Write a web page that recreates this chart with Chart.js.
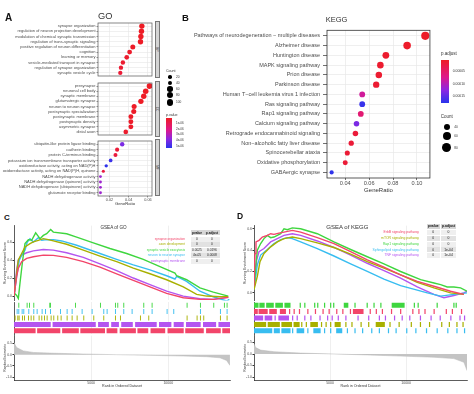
<!DOCTYPE html>
<html><head><meta charset="utf-8">
<script src="https://cdn.jsdelivr.net/npm/chart.js@4.4.1/dist/chart.umd.min.js"></script>
<style>
html,body{margin:0;padding:0;background:#fff}
body{width:474px;height:394px;position:relative;overflow:hidden;font-family:"Liberation Sans",Arial,sans-serif;color:#333}
.t{position:absolute;left:0;top:0;white-space:nowrap;transform-origin:0 0}
canvas{position:absolute}
.bx{position:absolute}
</style></head><body>
<script>
// ================= DATA =================
// Panel A: GO enrichment (three facets)
const goBPTerms = ["synapse organization","regulation of neuron projection development","modulation of chemical synaptic transmission","regulation of trans-synaptic signaling","positive regulation of neuron differentiation","cognition","learning or memory","vesicle-mediated transport in synapse","regulation of synapse organization","synaptic vesicle cycle"];
const goBPRatio = [0.0537,0.0533,0.0527,0.0523,0.0443,0.0410,0.0380,0.0340,0.0320,0.0313];
const goBPCount = [59,59,58,58,49,45,42,37,35,34];
const goBPPval = [2e-8,3e-8,4e-8,5e-8,1e-7,1.5e-7,2e-7,2.5e-7,3e-7,3.5e-7];

const goCCTerms = ["presynapse","neuronal cell body","synaptic membrane","glutamatergic synapse","neuron to neuron synapse","postsynaptic specialization","postsynaptic membrane","postsynaptic density","asymmetric synapse","distal axon"];
const goCCRatio = [0.0617,0.0577,0.0557,0.0527,0.0457,0.0453,0.0423,0.0423,0.0423,0.0370];
const goCCCount = [68,63,61,58,50,50,47,47,47,41];
const goCCPval = [1e-8,2e-8,3e-8,4e-8,6e-8,8e-8,1e-7,1.2e-7,1.4e-7,2e-7];

const goMFTerms = ["ubiquitin-like protein ligase binding","cadherin binding","protein C-terminus binding","potassium ion transmembrane transporter activity","oxidoreductase activity, acting on NAD(P)H","oxidoreductase activity, acting on NAD(P)H, quinone","NADH dehydrogenase activity","NADH dehydrogenase (quinone) activity","NADH dehydrogenase (ubiquinone) activity","glutamate receptor binding"];
const goMFRatio = [0.0333,0.0280,0.0263,0.0213,0.0167,0.0137,0.0107,0.0107,0.0107,0.0107];
const goMFCount = [37,31,29,23,18,15,12,12,12,12];
const goMFPval = [3.9e-6,4e-7,5e-7,4.9e-6,5.1e-6,6e-7,3.3e-6,3.3e-6,3.3e-6,3.3e-6];

const goXTicks = [0.02,0.04,0.06];
const goCountLegend = [20,40,60,80,100];
const goPLegend = ["1e-06","2e-06","3e-06","4e-06","5e-06"];
const goFacetNames = ["BP","CC","MF"];

// Panel B: KEGG enrichment
const keggTerms = ["Pathways of neurodegeneration \u2212 multiple diseases","Alzheimer disease","Huntington disease","MAPK signaling pathway","Prion disease","Parkinson disease","Human T\u2212cell leukemia virus 1 infection","Ras signaling pathway","Rap1 signaling pathway","Calcium signaling pathway","Retrograde endocannabinoid signaling","Non\u2212alcoholic fatty liver disease","Spinocerebellar ataxia","Oxidative phosphorylation","GABAergic synapse"];
const keggRatio = [0.107,0.0918,0.074,0.0694,0.0681,0.0659,0.0542,0.0542,0.053,0.0494,0.0485,0.045,0.0417,0.040,0.0286];
const keggCount = [72,62,50,47,46,44,36,36,36,33,33,30,28,27,19];
const keggPadj = [3e-6,5e-6,7e-6,8e-6,9e-6,1e-5,8.1e-5,1.72e-4,5.4e-5,1.35e-4,1.5e-5,1.4e-5,1.2e-5,1.3e-5,1.76e-4];
const keggXTicks = [0.04,0.06,0.08,0.10];
const keggPLegend = ["0.00005","0.00010","0.00015"];
const keggCountLegend = [40,60,80];

// Panel C: GSEA of GO  (running enrichment score: [rank, ES])
const cTerms = ["synapse organization","axon development","synaptic vesicle exocytosis","neuron to neuron synapse","postsynaptic membrane"];
const cPvalue = ["0","0","0.0025","4e-05","0"];
const cPadjust = ["0","0","0.0196","0.0008","0"];
const cESRed = [[0,0.004],[173,0.222],[281,0.313],[497,0.385],[821,0.422],[1253,0.44],[1901,0.458],[2549,0.455],[3413,0.433],[4493,0.385],[5573,0.324],[6653,0.251],[7733,0.178],[8813,0.105],[9893,0.033],[10973,-0.015],[12053,-0.033],[12917,-0.033],[13889,-0.011]];
const cESOlive = [[0,0.004],[173,0.258],[281,0.404],[497,0.476],[713,0.549],[1037,0.585],[1253,0.604],[1577,0.622],[1901,0.64],[2225,0.629],[2549,0.615],[3413,0.578],[4493,0.513],[5573,0.447],[6653,0.385],[7733,0.313],[8813,0.251],[9893,0.185],[10973,0.105],[11837,0.022],[12485,0.004],[13349,-0.004],[13889,-0.004]];
const cESGreen = [[0,0.04],[173,0.011],[281,-0.022],[389,0.149],[562,0.404],[713,0.585],[929,0.629],[1145,0.622],[1404,0.705],[1577,0.665],[1685,0.64],[1901,0.676],[2117,0.695],[2376,0.742],[2549,0.713],[3413,0.695],[4061,0.658],[5141,0.593],[6221,0.531],[7301,0.476],[8381,0.411],[9461,0.331],[10433,0.258],[10541,0.229],[11189,0.185],[12053,0.095],[12917,0.047],[13889,0.004]];
const cESCyan = [[0,0.004],[173,0.222],[346,0.404],[497,0.458],[713,0.513],[864,0.604],[1037,0.64],[1253,0.604],[1426,0.629],[1577,0.651],[1793,0.622],[2117,0.629],[2549,0.629],[3089,0.615],[4061,0.567],[5573,0.476],[6653,0.411],[7733,0.349],[8813,0.295],[9893,0.229],[10433,0.193],[10541,0.222],[11189,0.167],[12053,0.058],[12917,-0.004],[13781,-0.051],[13954,-0.033]];
const cESPurple = [[0,0.004],[173,0.295],[281,0.404],[497,0.458],[821,0.484],[1253,0.505],[1901,0.52],[2549,0.513],[3413,0.484],[4493,0.433],[5573,0.36],[6653,0.287],[7733,0.204],[8813,0.131],[9893,0.058],[10973,0.004],[12053,-0.025],[12917,-0.033],[13889,-0.011]];
// hit positions (ranks) and dense hit runs [start,end]
const cHitsGreen = [281,713,821,972,1253,2290,2333,3953,5573,6545,6696,7085,8381,8921,11189,12053,12917,13608,13781];
const cHitsCyan = [65,173,281,389,497,605,929,1253,1469,1793,2009,2333,2981,3413,3737,4385,5033,5789,6005,6545,7085,7625,8381,8921,9893,10325,12053,13349,13781];
const cHitsOlive = [43,130,216,302,389,518,648,778,907,1080,1253,1426,1598,1771,1944,2117,2376,2549,2808,3024,3413,3737,4061,4493,5141,5789,6545,6869,8165,8705,11189,11837,12053,12269,13349,13781];
const cRunsPurple = [[0,2380],[2500,5300],[5450,6150],[6300,6800],[6950,7700],[7850,9250],[9400,10200],[10350,11000],[11150,12100],[12250,13100],[13250,14000]];
const cRunsRed = [[0,1400],[1500,3000],[3120,4200],[4300,5900],[6000,6700],[6850,7900],[8000,8700],[8850,9800],[9950,11000],[11100,12300],[12450,13400],[13500,14000]];
const cMetric = [[0,0.535],[173,0.32],[605,0.17],[1253,0.1],[2333,0.07],[4493,0.03],[6653,0],[8813,-0.03],[10973,-0.06],[12485,-0.09],[13349,-0.14],[13781,-0.26],[13997,-0.48]];

// Panel D: GSEA of KEGG
const dTerms = ["ErbB signaling pathway","mTOR signaling pathway","Rap1 signaling pathway","Sphingolipid signaling pathway","TNF signaling pathway"];
const dPvalue = ["0","0","0","0","0"];
const dPadjust = ["0","0","0","1e-04","1e-04"];
const dESRed = [[0,0.062],[66,0.369],[131,0.477],[329,0.492],[548,0.523],[876,0.538],[1095,0.554],[1314,0.548],[1643,0.56],[1971,0.569],[2519,0.585],[3066,0.569],[4161,0.517],[5256,0.462],[6351,0.385],[7446,0.308],[8541,0.24],[9636,0.169],[10731,0.108],[11826,0.062],[12921,0.015],[13797,-0.015]];
const dESOlive = [[0,0.031],[219,0.154],[394,0.292],[657,0.369],[1095,0.431],[1533,0.477],[1971,0.508],[2519,0.523],[3066,0.508],[4161,0.468],[5256,0.425],[6351,0.363],[7446,0.292],[8541,0.231],[9636,0.169],[10731,0.098],[11826,0.046],[12921,0],[13797,-0.015]];
const dESGreen = [[0,0.031],[110,0.246],[219,0.4],[438,0.462],[657,0.508],[876,0.538],[1095,0.517],[1314,0.523],[1533,0.538],[1752,0.554],[1971,0.6],[2190,0.591],[2519,0.609],[3066,0.6],[4161,0.554],[5256,0.477],[6351,0.406],[7446,0.338],[8541,0.271],[9636,0.2],[10950,0.123],[11826,0.092],[12264,0.077],[12702,0.055],[13140,0.055],[13578,0.046],[14000,0.015]];
const dESCyan = [[0,0.031],[219,0.262],[438,0.354],[876,0.406],[1314,0.462],[1752,0.498],[2190,0.517],[2519,0.508],[3066,0.477],[4161,0.415],[5256,0.345],[6351,0.271],[7446,0.2],[8541,0.129],[9636,0.068],[10731,0.025],[11388,0],[12264,-0.031],[13140,-0.015],[14000,0]];
const dESPurple = [[0,0.031],[175,0.308],[329,0.385],[657,0.415],[1095,0.477],[1533,0.508],[1971,0.538],[2519,0.554],[3066,0.538],[4161,0.486],[5256,0.425],[6351,0.354],[7446,0.277],[8541,0.209],[9636,0.138],[10731,0.055],[11826,-0.015],[12483,-0.046],[13140,-0.025],[13797,0],[14000,0.015]];
const dRunsGreen = [[0,300],[350,700],[800,1300],[1400,1900],[2000,2400],[3000,3080],[3300,3380],[3950,4030],[4150,4230],[4600,4680],[5000,5080],[5200,5280],[5900,6200],[6600,6680],[7400,7480],[7850,7930],[8300,8380],[9050,9900],[10500,10580],[10750,10830],[12000,12080],[13100,13180],[13250,13330]];
const dRunsRed = [[0,250],[300,900],[1000,1500],[1700,2100],[2300,2380],[2600,2680],[2950,3030],[3500,3580],[4000,4080],[4500,4580],[4900,4980],[5400,5480],[5800,5880],[6300,6380],[6500,7200],[7600,7680],[8000,8080],[8400,8480],[9000,9080],[9600,9680],[10400,10480],[10800,10880],[11200,11280],[11800,11880],[12600,12680],[13000,13080],[13600,13680]];
const dRunsPurple = [[0,600],[700,1200],[1350,1430],[1600,2300],[2500,2580],[2800,2880],[3300,3380],[3700,3780],[4300,4380],[4800,4880],[5100,5180],[5500,5580],[6000,6080],[6800,6880],[7500,7580],[8200,8280],[8600,8680],[9200,9280],[9700,9780],[10200,10280],[10900,10980],[11600,11680],[12200,12280],[12900,12980],[13500,13580],[13800,13880]];
const dRunsOlive = [[0,800],[900,1700],[1800,2500],[2600,3000],[3100,3180],[3400,3480],[3700,4200],[4400,4480],[4700,4780],[5000,5080],[5300,5700],[6000,6080],[6400,6480],[7000,7080],[7500,7580],[8000,8600],[8900,8980],[9500,9580],[10300,10380],[10900,10980],[11500,11580],[12300,12380],[12800,12880],[13300,13380],[13700,13780]];
const dRunsCyan = [[0,1200],[1300,1700],[1800,2400],[2500,2580],[2800,3300],[3500,3580],[3900,4380],[4600,4680],[5000,5080],[5400,5800],[6100,6180],[6600,6680],[7100,7180],[7700,7780],[8200,8280],[8800,8880],[9300,9380],[10000,10080],[10600,10680],[11300,11380],[12000,12080],[12700,12780],[13300,13380],[13800,13880]];
const dMetric = [[0,0.45],[110,0.28],[438,0.17],[1314,0.1],[3066,0.04],[5256,0],[7446,-0.04],[9636,-0.09],[11826,-0.14],[13140,-0.2],[13797,-0.36],[14000,-0.72]];

const rankTicks = [5000,10000];
const esTicks = [0,0.2,0.4,0.6];
const metricTicks = [0.5,0,-0.5,-1];

// ================= STYLE / HELPERS =================
const COL = {red:"#f2456a", olive:"#a8b000", green:"#3fd63f", cyan:"#38bdf0", purple:"#b455f0"};
Chart.defaults.font.family = "'Liberation Sans', Arial, sans-serif";
Chart.defaults.color = "#4d4d4d";

function grad(t){
  const st=[[0,[238,28,36]],[0.4,[222,24,140]],[0.7,[140,40,226]],[1,[40,52,236]]];
  t=Math.max(0,Math.min(1,t));
  for(let i=1;i<st.length;i++){
    if(t<=st[i][0]){const a=st[i-1][0],ca=st[i-1][1],b=st[i][0],cb=st[i][1];const u=(t-a)/(b-a);
      return "rgb("+ca.map((v,k)=>Math.round(v+(cb[k]-v)*u)).join(",")+")";}
  }
  return "rgb(40,52,236)";
}
const GO_PMAX = 5.2e-6, KEGG_PMAX = 1.8e-4;
const goR = c => 0.3*Math.sqrt(c)+0.4;
const keggR = c => 0.48*Math.sqrt(c);

const frame = {id:"frame", afterDraw(chart,args,opts){
  if(!opts||!opts.color) return;
  const a=chart.chartArea,c=chart.ctx;c.save();c.strokeStyle=opts.color;c.lineWidth=opts.width||0.8;
  c.strokeRect(a.left,a.top,a.right-a.left,a.bottom-a.top);c.restore();}};
Chart.register(frame);

function mk(area,yW,xH,cfg){
  const pl=2,pt=2,pr=2,pb=2;
  const left=area[0]-yW-pl, top=area[1]-pt;
  const w=area[2]-left+pr, h=area[3]+xH+pb-top;
  const cv=document.createElement("canvas");
  cv.width=w;cv.height=h;
  cv.style.left=left+"px";cv.style.top=top+"px";cv.style.width=w+"px";cv.style.height=h+"px";
  document.body.appendChild(cv);
  const o=cfg.options;
  o.responsive=false;o.animation=false;o.devicePixelRatio=1;o.maintainAspectRatio=false;
  o.layout={padding:{left:pl,top:pt,right:pr,bottom:pb}};
  o.plugins=Object.assign({legend:{display:false},tooltip:{enabled:false}},o.plugins||{});
  o.scales.x.afterFit=s=>{s.height=xH;};
  o.scales.y.afterFit=s=>{s.width=yW;};
  return new Chart(cv,cfg);
}
function label(s,x,cy,size,o={}){
  const k=4,d=document.createElement("div");
  d.className="t";d.textContent=s;
  d.style.fontSize=(size*k)+"px";d.style.lineHeight=(size*k)+"px";
  if(o.bold)d.style.fontWeight="bold";
  d.style.color=o.color||"#333";
  const ax=o.align==="right"?"-100%":(o.align==="center"?"-50%":"0");
  d.style.transform=`translate(${x}px,${cy}px) rotate(${o.rot||0}deg) scale(${1/k}) translate(${ax},-50%)`;
  document.body.appendChild(d);return d;
}
function box(x,y,w,h,css){const d=document.createElement("div");d.className="bx";
  d.style.cssText+=`left:${x}px;top:${y}px;width:${w}px;height:${h}px;`+css;document.body.appendChild(d);return d;}
const gradCSS = "linear-gradient(to bottom,"+[0,0.2,0.4,0.55,0.7,0.85,1].map(t=>grad(t)+" "+(t*100)+"%").join(",")+")";

// ================= PANEL A: GO facets =================
function goFacet(area,xH,terms,ratio,count,pv,showX){
  return mk(area,98,xH,{type:"scatter",
    data:{datasets:[{data:ratio.map((v,i)=>({x:v,y:i+1})),pointRadius:count.map(goR),
      pointBackgroundColor:pv.map(p=>grad(p/GO_PMAX)),pointBorderWidth:0}]},
    options:{plugins:{frame:{color:"#555",width:0.7}},scales:{
      x:{type:"linear",min:0.00815,max:0.06425,afterBuildTicks:s=>{s.ticks=goXTicks.map(v=>({value:v}));},
        grid:{color:"#e6e6e6",lineWidth:0.6,drawTicks:showX,tickLength:1.5,tickColor:"#555"},border:{display:false},
        ticks:{display:showX,font:{size:3.8},padding:0.5,maxRotation:0,autoSkip:false,callback:v=>v.toFixed(2)},
        title:{display:showX,text:"GeneRatio",font:{size:4.2},padding:0,color:"#333"}},
      y:{type:"linear",reverse:true,min:0.4,max:10.6,afterBuildTicks:s=>{s.ticks=terms.map((t,i)=>({value:i+1}));},
        grid:{color:"#e6e6e6",lineWidth:0.6,tickLength:1.5,tickColor:"#555"},border:{display:false},
        ticks:{font:{size:4},padding:1,autoSkip:false,color:"#4d4d4d",callback:v=>terms[Math.round(v)-1]}}
    }}});
}
goFacet([98,21,154,78],0,goBPTerms,goBPRatio,goBPCount,goBPPval,false);
goFacet([98,81,154,137],0,goCCTerms,goCCRatio,goCCCount,goCCPval,false);
goFacet([98,139,154,196],10,goMFTerms,goMFRatio,goMFCount,goMFPval,true);
[[21,78],[81,137],[139,196]].forEach((f,i)=>{
  box(154.5,f[0],5,f[1]-f[0],"background:#d4d4d4;border:0.5px solid #777;box-sizing:border-box;");
  label(goFacetNames[i],157,(f[0]+f[1])/2,3.2,{align:"center",rot:90,color:"#222"});
});
label("A",5,17.2,10,{bold:true,color:"#111"});
label("GO",98,16,9.3,{color:"#333"});

// GO legend
label("Count",166,70.7,3.6);
const goLegY=[77,83,89,95,102.5];
goCountLegend.forEach((c,i)=>{const r=goR(c);box(170-r,goLegY[i]-r,2*r,2*r,"background:#000;border-radius:50%;");label(String(c),176,goLegY[i],3.2);});
label("p.value",166,115,3.6);
box(166,118,6,30,"background:"+gradCSS+";");
[123,129,134,140,146].forEach((y,i)=>label(goPLegend[i],176,y,3));

// ================= PANEL B: KEGG =================
mk([327,26,432,178],150,16,{type:"scatter",
  data:{datasets:[{data:keggRatio.map((v,i)=>({x:v,y:i+1})),pointRadius:keggCount.map(keggR),
    pointBackgroundColor:keggPadj.map(p=>grad(p/KEGG_PMAX)),pointBorderWidth:0}]},
  options:{plugins:{frame:{color:"#333",width:0.8}},scales:{
    x:{type:"linear",min:0.0247,max:0.1109,afterBuildTicks:s=>{s.ticks=keggXTicks.map(v=>({value:v}));},
      grid:{color:"#e8e8e8",lineWidth:0.7,tickLength:2,tickColor:"#333"},border:{display:false},
      ticks:{font:{size:5.6},padding:0,maxRotation:0,autoSkip:false,color:"#4d4d4d",callback:v=>v.toFixed(2)},
      title:{display:true,text:"GeneRatio",font:{size:6},padding:0,color:"#333"}},
    y:{type:"linear",reverse:true,min:0.43,max:15.57,afterBuildTicks:s=>{s.ticks=keggTerms.map((t,i)=>({value:i+1}));},
      grid:{color:"#e8e8e8",lineWidth:0.7,tickLength:4,tickColor:"#333"},border:{display:false},
      ticks:{font:{size:5.5},padding:3,autoSkip:false,color:"#4d4d4d",callback:v=>keggTerms[Math.round(v)-1]}}
  }}});
label("B",182,17.3,9.5,{bold:true,color:"#111"});
label("KEGG",325.7,19.5,7.5,{color:"#333"});
label("p.adjust",441,53.5,4.5);
box(441,60,8,43,"background:"+gradCSS+";");
[71,84,96.3].forEach((y,i)=>label(keggPLegend[i],452.7,y,3.4));
label("Count",440.7,116.7,4.5);
[127.3,136.3,147.7].forEach((y,i)=>{const r=keggR(keggCountLegend[i])*1.05;box(446.7-r,y-r,2*r,2*r,"background:#000;border-radius:50%;");label(String(keggCountLegend[i]),454.3,y,3.2);});

// ================= GSEA helpers =================
function segData(runs,row){const d=[];runs.forEach(s=>{d.push({x:s[0],y:row},{x:s[1],y:row},{x:s[1],y:null});});return d;}
function hitRuns(hits){return hits.map(h=>[h,h+60]);}
const xRank = (showT)=>({type:"linear",min:0,max:14000,afterBuildTicks:s=>{s.ticks=rankTicks.map(v=>({value:v}));},
  grid:{color:"#e4e4e4",lineWidth:0.6,drawTicks:showT,tickLength:1,tickColor:"#333"},border:{display:showT,color:"#333",width:0.8},
  ticks:{display:showT,font:{size:3.5},padding:0,maxRotation:0,autoSkip:false,color:"#4d4d4d",callback:v=>String(v)},
  title:{display:showT,text:"Rank in Ordered Dataset",font:{size:3.6},padding:0,color:"#333"}});
function gsea(x0,x1,curves,cols,esMin,esMax,rugRows,rugCols,metric,mMin,mMax){
  mk([x0,225,x1,301],14,0,{type:"scatter",
    data:{datasets:curves.map((c,i)=>({data:c.map(p=>({x:p[0],y:p[1]})),showLine:true,borderColor:cols[i],borderWidth:1.4,pointRadius:0}))},
    options:{scales:{x:xRank(false),
      y:{type:"linear",min:esMin,max:esMax,afterBuildTicks:s=>{s.ticks=esTicks.map(v=>({value:v}));},
        grid:{drawOnChartArea:false,tickLength:1.5,tickColor:"#333"},border:{color:"#333",width:0.8},
        ticks:{font:{size:3.5},padding:0.5,color:"#4d4d4d",callback:v=>v.toFixed(1)},
        title:{display:true,text:"Running Enrichment Score",font:{size:3.5},padding:{top:2.5,bottom:0},color:"#333"}}}}});
  mk([x0,302,x1,334],14,0,{type:"scatter",
    data:{datasets:rugRows.map((r,i)=>({data:segData(r,i+0.5),showLine:true,spanGaps:false,borderColor:rugCols[i],borderWidth:5,borderCapStyle:"butt",pointRadius:0}))},
    options:{scales:{x:xRank(false),
      y:{type:"linear",min:0,max:5,reverse:true,grid:{display:false},border:{color:"#333",width:0.8},ticks:{display:false}}}}});
  mk([x0,335,x1,380],14,8,{type:"scatter",
    data:{datasets:[{data:metric.map(p=>({x:p[0],y:p[1]})),showLine:true,fill:"origin",backgroundColor:"#c4c4c4",borderColor:"#b8b8b8",borderWidth:0.5,pointRadius:0}]},
    options:{scales:{x:xRank(true),
      y:{type:"linear",min:mMin,max:mMax,afterBuildTicks:s=>{s.ticks=metricTicks.map(v=>({value:v}));},
        grid:{drawOnChartArea:false,tickLength:1.5,tickColor:"#333"},border:{color:"#333",width:0.8},
        ticks:{font:{size:3.5},padding:0.5,color:"#4d4d4d",callback:v=>v.toFixed(1)},
        title:{display:true,text:"Ranked list metric",font:{size:3.5},padding:{top:2.5,bottom:0},color:"#333"}}}}});
}
function table(terms,pv,pa,cols,labRight,c1,c2,headY,rowYs,fs){
  box(c1[0],headY-2.3,c1[1]-c1[0],4.6,"background:#d6d6d6;");
  box(c2[0],headY-2.3,c2[1]-c2[0],4.6,"background:#d6d6d6;");
  label("pvalue",(c1[0]+c1[1])/2,headY,fs,{align:"center",bold:true,color:"#111"});
  label("p.adjust",(c2[0]+c2[1])/2,headY,fs,{align:"center",bold:true,color:"#111"});
  rowYs.forEach((y,i)=>{
    const bg=i%2===0?"#efefef":"#e2e2e2";
    box(c1[0],y-2.5,c1[1]-c1[0],5,"background:"+bg+";");
    box(c2[0],y-2.5,c2[1]-c2[0],5,"background:"+bg+";");
    label(terms[i],labRight,y,fs,{align:"right",color:cols[i]});
    label(pv[i],(c1[0]+c1[1])/2,y,fs,{align:"center",color:"#222"});
    label(pa[i],(c2[0]+c2[1])/2,y,fs,{align:"center",color:"#222"});
  });
}

// ================= PANEL C =================
gsea(14,230,[cESRed,cESOlive,cESGreen,cESCyan,cESPurple],[COL.red,COL.olive,COL.green,COL.cyan,COL.purple],-0.044,0.785,
  [hitRuns(cHitsGreen),hitRuns(cHitsCyan),hitRuns(cHitsOlive),cRunsPurple,cRunsRed],[COL.green,COL.cyan,COL.olive,COL.purple,COL.red],
  cMetric,-1.132,0.853);
label("C",4,216.8,8,{bold:true,color:"#111"});
label("GSEA of GO",113.5,227.5,4.6,{align:"center",color:"#333"});
table(cTerms,cPvalue,cPadjust,[COL.red,COL.olive,COL.green,COL.cyan,COL.purple],185,[190.5,203.5],[204,220],232.7,[239,244.4,250,255.4,261],3.2);

// ================= PANEL D =================
gsea(254,467,[dESRed,dESOlive,dESGreen,dESCyan,dESPurple],[COL.red,COL.olive,COL.green,COL.cyan,COL.purple],-0.071,0.63,
  [dRunsGreen,dRunsRed,dRunsPurple,dRunsOlive,dRunsCyan],[COL.green,COL.red,COL.purple,COL.olive,COL.cyan],
  dMetric,-1.129,0.8);
label("D",237,216.3,8.5,{bold:true,color:"#111"});
label("GSEA of KEGG",347.3,227.2,6,{align:"center",color:"#333"});
table(dTerms,dPvalue,dPadjust,[COL.red,COL.olive,COL.green,COL.cyan,COL.purple],419,[427,439.5],[441,456],226.3,[232.3,238.3,244,249.7,255.3],3.4);
</script>
</body></html>
